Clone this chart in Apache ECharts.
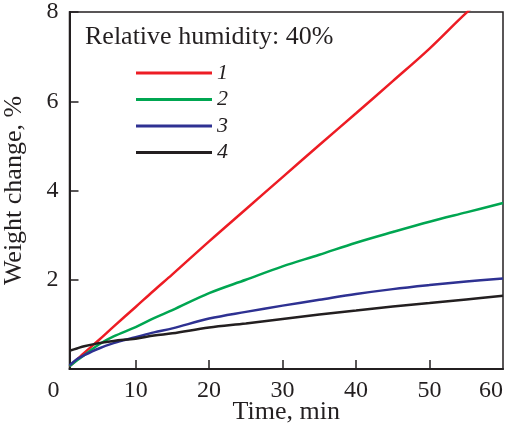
<!DOCTYPE html>
<html>
<head>
<meta charset="utf-8">
<script src="https://cdn.jsdelivr.net/npm/echarts@6/dist/echarts.min.js"></script>
<style>
  html, body { margin: 0; padding: 0; background: #fff; }
  #main { width: 510px; height: 428px; }
</style>
</head>
<body>
<div id="main"></div>
<script>
// time, min
var times  = [1, 2, 3, 5, 7, 10, 12.5, 15, 20, 25, 30, 35, 40, 45, 50, 55, 60];
// weight change, %
var curve1 = [0.06, 0.21, 0.36, 0.65, 0.95, 1.39, 1.76, 2.12, 2.86, 3.58, 4.30, 5.02, 5.73, 6.45, 7.18, 7.98, 8.70];
var curve2 = [0.06, 0.19, 0.31, 0.55, 0.73, 0.94, 1.14, 1.32, 1.70, 2.00, 2.30, 2.56, 2.83, 3.07, 3.30, 3.51, 3.72];
var curve3 = [0.08, 0.22, 0.31, 0.46, 0.58, 0.71, 0.82, 0.91, 1.13, 1.28, 1.42, 1.55, 1.68, 1.79, 1.88, 1.96, 2.03];
var curve4 = [0.41, 0.46, 0.51, 0.58, 0.63, 0.68, 0.75, 0.80, 0.93, 1.02, 1.12, 1.22, 1.31, 1.40, 1.48, 1.56, 1.64];
var names  = ['1', '2', '3', '4'];
var colors = ['#ed1c24', '#00a651', '#2e3192', '#231f20'];
var xTicks = [10, 20, 30, 40, 50];
var xLabels = [1, 10, 20, 30, 40, 50, 60];

var font = '"Liberation Serif", "DejaVu Serif", serif';
var ink = '#231f20';

function pairs(ys) {
    return times.map(function (t, i) { return [t, ys[i]]; });
}

var myChart = echarts.init(document.getElementById('main'));
var option = {
    animation: false,
    title: {
        text: 'Relative humidity: 40%',
        left: 85,
        top: 24,
        padding: 0,
        textStyle: { fontFamily: font, fontSize: 26, fontWeight: 'normal', color: ink }
    },
    legend: {
        orient: 'vertical',
        left: 136,
        top: 62,
        padding: 0,
        icon: 'rect',
        itemWidth: 76,
        itemHeight: 3,
        itemGap: 4.5,
        data: names,
        textStyle: {
            fontFamily: font, fontSize: 22, fontStyle: 'italic', color: ink
        }
    },
    grid: {
        left: 69.5,
        right: 7,
        top: 12,
        bottom: 59,
        outerBoundsMode: 'none',
        show: true,
        borderColor: ink,
        borderWidth: 1.5
    },
    xAxis: {
        type: 'value',
        min: 1,
        max: 60,
        name: 'Time, min',
        nameLocation: 'middle',
        nameGap: 30,
        nameMoveOverlap: false,
        nameTextStyle: { fontFamily: font, fontSize: 26, color: ink },
        axisLine: { lineStyle: { color: ink, width: 2 } },
        axisTick: { inside: true, length: 9, lineStyle: { color: ink, width: 1.5 }, customValues: xTicks },
        axisLabel: {
            customValues: xLabels,
            margin: 10,
            fontFamily: font, fontSize: 24, color: ink,
            formatter: function (v) {
                if (v === 1) return '{z|0}';
                if (v === 60) return '{e|60}';
                return String(v);
            },
            rich: {
                z: { fontFamily: font, fontSize: 24, color: ink, padding: [0, 32, 0, 0] },
                e: { fontFamily: font, fontSize: 24, color: ink, padding: [0, 24, 0, 0] }
            }
        },
        splitLine: { show: false }
    },
    yAxis: {
        type: 'value',
        min: 0,
        max: 8,
        interval: 2,
        name: 'Weight change, %',
        nameLocation: 'middle',
        nameGap: 42,
        nameMoveOverlap: false,
        nameTextStyle: { fontFamily: font, fontSize: 26, color: ink },
        axisLine: { show: true, lineStyle: { color: ink, width: 2 } },
        axisTick: { show: true, inside: true, length: 9, lineStyle: { color: ink, width: 1.5 } },
        axisLabel: {
            margin: 11,
            fontFamily: font, fontSize: 24, color: ink,
            formatter: function (v) { return v === 0 ? '' : String(v); }
        },
        splitLine: { show: false }
    },
    series: [curve1, curve2, curve3, curve4].map(function (ys, i) {
        return {
            name: names[i],
            type: 'line',
            data: pairs(ys),
            smooth: 0.35,
            symbol: 'none',
            clip: true,
            itemStyle: { color: colors[i] },
            lineStyle: { color: colors[i], width: 2.5 }
        };
    })
};
myChart.setOption(option);
</script>
</body>
</html>
